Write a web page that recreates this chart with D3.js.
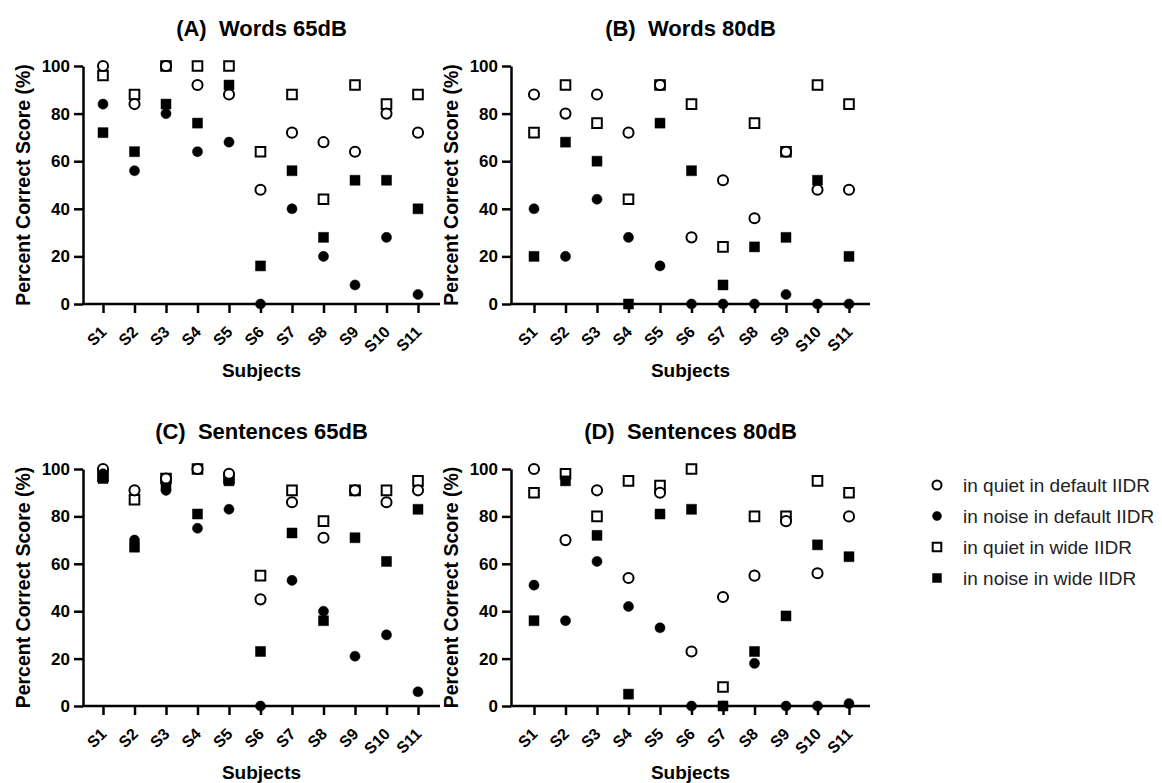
<!DOCTYPE html>
<html>
<head>
<meta charset="utf-8">
<script src="https://cdn.jsdelivr.net/npm/d3@7"></script>
<style>
  html, body { margin: 0; padding: 0; background: #fff; }
  svg { display: block; }
  text { font-family: "Liberation Sans", Arial, sans-serif; }
  .ptitle { white-space: pre; }
</style>
</head>
<body>
<svg id="chart" width="1162" height="783"></svg>
<script>
// ---------------- DATA ----------------
const subjects = ["S1","S2","S3","S4","S5","S6","S7","S8","S9","S10","S11"];
const seriesNames = ["in quiet in default IIDR","in noise in default IIDR","in quiet in wide IIDR","in noise in wide IIDR"];
const yTickValues = [0, 20, 40, 60, 80, 100];
const panelTitles = ["(A)  Words 65dB", "(B)  Words 80dB", "(C)  Sentences 65dB", "(D)  Sentences 80dB"];
const xAxisTitle = "Subjects";
const yAxisTitle = "Percent Correct Score (%)";

// (A) Words 65dB
const words65QuietDefault = [100, 84, 100, 92, 88, 48, 72, 68, 64, 80, 72];
const words65NoiseDefault = [84, 56, 80, 64, 68, 0, 40, 20, 8, 28, 4];
const words65QuietWide    = [96, 88, 100, 100, 100, 64, 88, 44, 92, 84, 88];
const words65NoiseWide    = [72, 64, 84, 76, 92, 16, 56, 28, 52, 52, 40];

// (B) Words 80dB
const words80QuietDefault = [88, 80, 88, 72, 92, 28, 52, 36, 64, 48, 48];
const words80NoiseDefault = [40, 20, 44, 28, 16, 0, 0, 0, 4, 0, 0];
const words80QuietWide    = [72, 92, 76, 44, 92, 84, 24, 76, 64, 92, 84];
const words80NoiseWide    = [20, 68, 60, 0, 76, 56, 8, 24, 28, 52, 20];

// (C) Sentences 65dB
const sent65QuietDefault = [100, 91, 96, 100, 98, 45, 86, 71, 91, 86, 91];
const sent65NoiseDefault = [98, 70, 91, 75, 83, 0, 53, 40, 21, 30, 6];
const sent65QuietWide    = [97, 87, 96, 100, 96, 55, 91, 78, 91, 91, 95];
const sent65NoiseWide    = [96, 67, 93, 81, 95, 23, 73, 36, 71, 61, 83];

// (D) Sentences 80dB
const sent80QuietDefault = [100, 70, 91, 54, 90, 23, 46, 55, 78, 56, 80];
const sent80NoiseDefault = [51, 36, 61, 42, 33, 0, 0, 18, 0, 0, 1];
const sent80QuietWide    = [90, 98, 80, 95, 93, 100, 8, 80, 80, 95, 90];
const sent80NoiseWide    = [36, 95, 72, 5, 81, 83, 0, 23, 38, 68, 63];

// ---------------- LAYOUT ----------------
const panelData = [
  [words65QuietDefault, words65NoiseDefault, words65QuietWide, words65NoiseWide],
  [words80QuietDefault, words80NoiseDefault, words80QuietWide, words80NoiseWide],
  [sent65QuietDefault, sent65NoiseDefault, sent65QuietWide, sent65NoiseWide],
  [sent80QuietDefault, sent80NoiseDefault, sent80QuietWide, sent80NoiseWide]
];
const panelLayout = [
  { axisX: 83,  first: 103, last: 418, endX: 440, top: 66,  bottom: 304 },
  { axisX: 511, first: 534, last: 849, endX: 870, top: 66,  bottom: 304 },
  { axisX: 83,  first: 103, last: 418, endX: 440, top: 469, bottom: 706 },
  { axisX: 511, first: 534, last: 849, endX: 870, top: 469, bottom: 706 }
];
const seriesStyle = [
  { shape: d3.symbolCircle, filled: false, size: 80 },
  { shape: d3.symbolCircle, filled: true,  size: 80 },
  { shape: d3.symbolSquare, filled: false, size: 92 },
  { shape: d3.symbolSquare, filled: true,  size: 100 }
];
const drawOrder = [2, 3, 0, 1];

const svg = d3.select("#chart");
svg.append("rect").attr("width", 1162).attr("height", 783).attr("fill", "#fff");

panelData.forEach((series, pi) => {
  const L = panelLayout[pi];
  const x = d3.scalePoint().domain(subjects).range([L.first, L.last]);
  const y = d3.scaleLinear().domain([0, 100]).range([L.bottom, L.top]);
  const g = svg.append("g");

  // Title
  g.append("text")
    .attr("class", "ptitle")
    .attr("xml:space", "preserve")
    .attr("x", (L.axisX + L.endX) / 2)
    .attr("y", L.top - 30)
    .attr("text-anchor", "middle")
    .attr("font-size", 22).attr("font-weight", "bold").attr("fill", "#000")
    .text(panelTitles[pi]);

  // Y axis
  const yAxis = d3.axisLeft(y).tickValues(yTickValues).tickSize(9).tickSizeOuter(0).tickPadding(4);
  const yg = g.append("g").attr("transform", `translate(${L.axisX},0)`).call(yAxis);
  yg.select(".domain").attr("stroke", "#000").attr("stroke-width", 2.5);
  yg.selectAll(".tick line").attr("stroke", "#000").attr("stroke-width", 2.5);
  yg.selectAll(".tick text").attr("font-size", 17).attr("font-weight", "bold").attr("fill", "#000")
    .attr("font-family", "Liberation Sans, Arial, sans-serif");

  // X axis
  const xAxis = d3.axisBottom(x).tickSize(9).tickSizeOuter(0);
  const xg = g.append("g").attr("transform", `translate(0,${L.bottom})`).call(xAxis);
  xg.select(".domain").remove();
  xg.append("line").attr("x1", L.axisX - 1).attr("x2", L.endX).attr("y1", 0).attr("y2", 0)
    .attr("stroke", "#000").attr("stroke-width", 2.5);
  xg.selectAll(".tick line").attr("stroke", "#000").attr("stroke-width", 2.5);
  xg.selectAll(".tick text")
    .attr("font-size", 16).attr("font-weight", "bold").attr("fill", "#000")
    .attr("font-family", "Liberation Sans, Arial, sans-serif")
    .attr("y", 0).attr("dy", 0)
    .attr("text-anchor", "end")
    .attr("transform", "translate(4,29) rotate(-45)");

  // Axis titles
  g.append("text")
    .attr("transform", `translate(${L.axisX - 60},${(L.top + L.bottom) / 2}) rotate(-90)`)
    .attr("text-anchor", "middle")
    .attr("dominant-baseline", "central")
    .attr("font-size", 19.5).attr("font-weight", "bold").attr("fill", "#000")
    .text(yAxisTitle);
  g.append("text")
    .attr("x", (L.axisX + L.endX) / 2)
    .attr("y", L.bottom + 73)
    .attr("text-anchor", "middle")
    .attr("font-size", 19).attr("font-weight", "bold").attr("fill", "#000")
    .text(xAxisTitle);

  // Points
  drawOrder.forEach(si => {
    const st = seriesStyle[si];
    const sym = d3.symbol().type(st.shape).size(st.size);
    g.append("g").selectAll("path")
      .data(series[si].map((v, i) => ({ s: subjects[i], v })))
      .join("path")
      .attr("transform", d => `translate(${x(d.s)},${y(d.v)})`)
      .attr("d", sym)
      .attr("fill", st.filled ? "#000" : "#fff")
      .attr("stroke", "#000")
      .attr("stroke-width", st.filled ? 0.5 : 2);
  });
});

// Legend
const legend = svg.append("g").attr("transform", "translate(937,485)");
seriesNames.forEach((name, i) => {
  const st = seriesStyle[i];
  const row = legend.append("g").attr("transform", `translate(0,${i * 31})`);
  row.append("path")
    .attr("d", d3.symbol().type(st.shape).size(st.size * 0.8))
    .attr("fill", st.filled ? "#000" : "#fff")
    .attr("stroke", "#000")
    .attr("stroke-width", st.filled ? 0.5 : 2);
  row.append("text")
    .attr("x", 26).attr("y", 0)
    .attr("dominant-baseline", "central")
    .attr("font-size", 19).attr("fill", "#222")
    .text(name);
});
</script>
</body>
</html>
